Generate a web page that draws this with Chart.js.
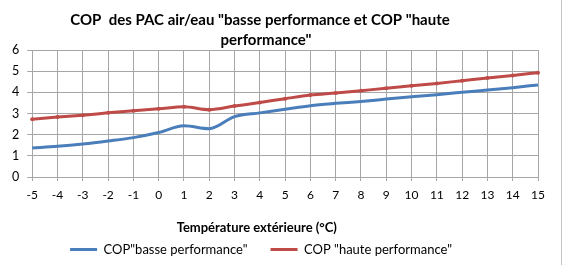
<!DOCTYPE html>
<html>
<head>
<meta charset="utf-8">
<script src="https://cdn.jsdelivr.net/npm/chart.js@4/dist/chart.umd.min.js"></script>
<style>
  html, body { margin: 0; padding: 0; background: #fff; }
  #box { position: relative; width: 564px; height: 265px; }
</style>
</head>
<body>
<div id="box"><canvas id="graphique"></canvas></div>
<script>
// données
var temperatures = ["-5", "-4", "-3", "-2", "-1", "0", "1", "2", "3", "4", "5",
                    "6", "7", "8", "9", "10", "11", "12", "13", "14", "15"];
var copBasse = [1.37, 1.45, 1.56, 1.70, 1.86, 2.10, 2.42, 2.28, 2.85, 3.03, 3.20,
                3.37, 3.48, 3.57, 3.68, 3.79, 3.89, 4.00, 4.11, 4.22, 4.35];
var copHaute = [2.73, 2.83, 2.92, 3.03, 3.13, 3.22, 3.32, 3.18, 3.35, 3.52, 3.70,
                3.87, 3.97, 4.08, 4.19, 4.31, 4.42, 4.55, 4.68, 4.80, 4.93];
var titreLignes = ["COP  des PAC air/eau \"basse performance et COP \"haute", "performance\""];
var titreAxeX = "Température extérieure (°C)";

var police = "Lato";
var grille = "#a6a6a6";

// titre dessiné à la main (Excel le centre un peu à gauche du graphe) + bord droit
var titrePlugin = {
    id: "titreExcel",
    afterDraw: function (chart) {
        var ctx = chart.ctx;
        ctx.save();
        ctx.font = "bold 15px " + police;
        ctx.fillStyle = "#000";
        ctx.textAlign = "center";
        ctx.textBaseline = "middle";
        ctx.fillText(titreLignes[0], 260, 20);
        ctx.fillText(titreLignes[1], 266, 40);
        ctx.strokeStyle = "#c4c4c4";
        ctx.lineWidth = 1;
        ctx.beginPath();
        ctx.moveTo(561.5, 0);
        ctx.lineTo(561.5, 265);
        ctx.stroke();
        ctx.restore();
    }
};

// espaces en fin de libellé pour écarter les deux entrées comme dans Excel
function libelles(chart) {
    var items = Chart.defaults.plugins.legend.labels.generateLabels(chart);
    items[0].text += "      ";
    items[1].text += "      ";
    items.forEach(function (it) { it.lineWidth = 0; });
    return items;
}

var ctx = document.getElementById("graphique");

var graphique = new Chart(ctx, {
    type: "line",
    data: {
        labels: temperatures,
        datasets: [
            {
                label: "COP\"basse performance\"",
                data: copBasse,
                borderColor: "#4a7ebb",
                backgroundColor: "#4a7ebb",
                borderWidth: 3,
                pointRadius: 0,
                cubicInterpolationMode: "monotone",
                fill: false,
            },
            {
                label: "COP \"haute performance\"",
                data: copHaute,
                borderColor: "#be4b48",
                backgroundColor: "#be4b48",
                borderWidth: 3,
                pointRadius: 2,
                pointBorderWidth: 0,
                pointBackgroundColor: "#be4b48",
                cubicInterpolationMode: "monotone",
                fill: false,
            },
        ],
    },
    options: {
        responsive: true,
        maintainAspectRatio: false,
        animation: false,
        layout: { padding: { top: 50, right: 26, left: 4, bottom: -1 } },
        plugins: {
            title: { display: false },
            tooltip: { enabled: false },
            legend: {
                position: "bottom",
                title: {
                    display: true,
                    text: titreAxeX + "         ",
                    position: "center",
                    font: { family: police, size: 13, weight: "bold" },
                    color: "#000",
                    padding: { top: 12, bottom: 3 },
                },
                labels: {
                    font: { family: police, size: 13, lineHeight: 1 },
                    color: "#000",
                    boxWidth: 27,
                    boxHeight: 3,
                    padding: 3,
                    generateLabels: libelles,
                },
            },
        },
        scales: {
            x: {
                offset: false,
                grid: { color: grille, tickLength: 4, lineWidth: 1 },
                border: { color: grille },
                ticks: { font: { family: police, size: 12 }, color: "#000", maxRotation: 0, autoSkip: false, padding: 7 },
            },
            y: {
                min: 0,
                max: 6,
                ticks: { stepSize: 1, font: { family: police, size: 12.5 }, color: "#000", padding: 8 },
                grid: { color: grille, tickLength: 5, lineWidth: 1 },
                border: { color: grille },
            },
        },
    },
    plugins: [titrePlugin],
});
</script>
</body>
</html>
